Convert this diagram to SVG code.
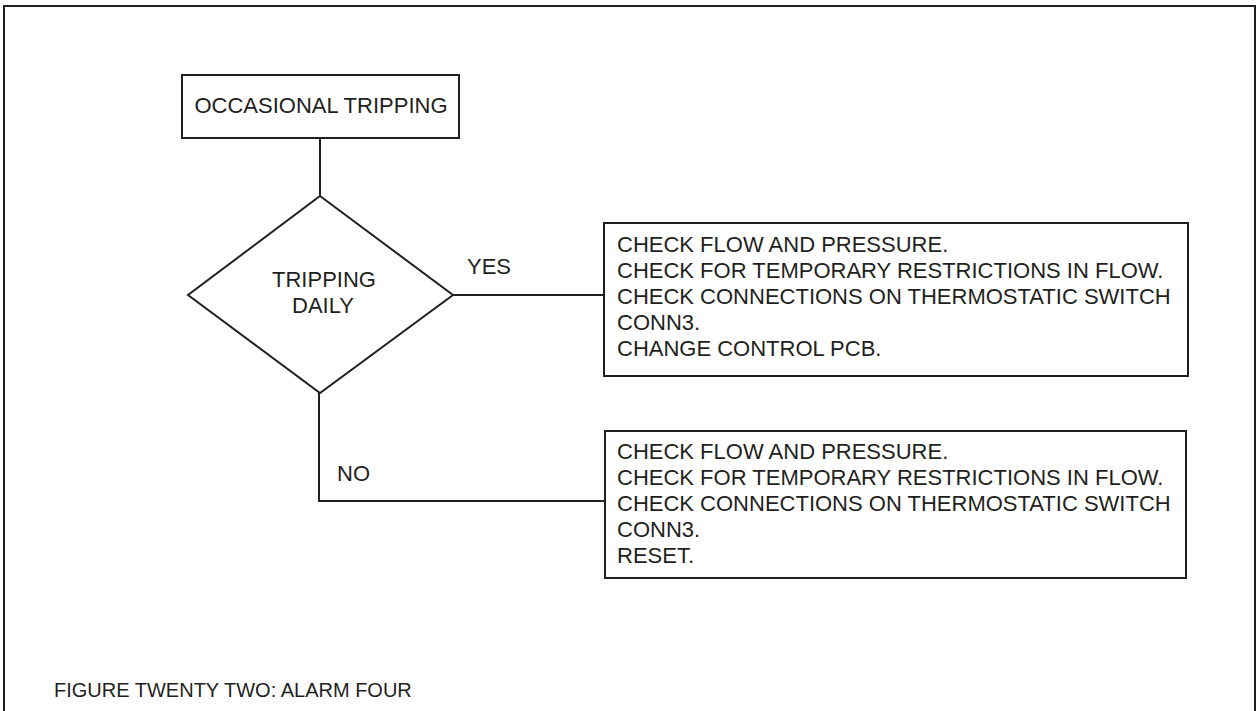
<svg xmlns="http://www.w3.org/2000/svg" width="1257" height="711" viewBox="0 0 1257 711">
<style>
.frame{fill:none;stroke:#231f20;stroke-width:2}
.box{fill:#fff;stroke:#231f20;stroke-width:2}
.ln{fill:none;stroke:#231f20;stroke-width:2}
text{font-family:"Liberation Sans",Arial,sans-serif;fill:#231f20;font-size:22px}
.mid{text-anchor:middle}
</style>
<rect width="1257" height="711" fill="#fff"/>
<path class="frame" d="M4,720 V6 H1255 V720"/>
<g id="connectors">
<line class="ln" x1="320" y1="138" x2="320" y2="196"/>
<line class="ln" x1="453" y1="295" x2="604" y2="295"/>
<polyline class="ln" points="319,393 319,501 605,501"/>
<text x="467" y="274">YES</text>
<text x="337" y="481">NO</text>
</g>
<g id="start">
<rect class="box" x="182" y="75" width="277" height="63"/>
<text class="mid" x="321" y="113">OCCASIONAL TRIPPING</text>
</g>
<g id="decision">
<polygon class="box" points="320,196 453,295 320,393 188,295"/>
<text class="mid" x="324" y="287">TRIPPING</text>
<text class="mid" x="323" y="313">DAILY</text>
</g>
<g id="yes-action">
<rect class="box" x="604" y="223" width="584" height="153"/>
<text x="617" y="252">CHECK FLOW AND PRESSURE.</text>
<text x="617" y="278">CHECK FOR TEMPORARY RESTRICTIONS IN FLOW.</text>
<text x="617" y="304">CHECK CONNECTIONS ON THERMOSTATIC SWITCH</text>
<text x="617" y="330">CONN3.</text>
<text x="617" y="356">CHANGE CONTROL PCB.</text>
</g>
<g id="no-action">
<rect class="box" x="605" y="431" width="581" height="147"/>
<text x="617" y="459">CHECK FLOW AND PRESSURE.</text>
<text x="617" y="485">CHECK FOR TEMPORARY RESTRICTIONS IN FLOW.</text>
<text x="617" y="511">CHECK CONNECTIONS ON THERMOSTATIC SWITCH</text>
<text x="617" y="537">CONN3.</text>
<text x="617" y="563">RESET.</text>
</g>
<g id="caption">
<text x="54" y="697" style="font-size:20px">FIGURE TWENTY TWO: ALARM FOUR</text>
</g>
</svg>
